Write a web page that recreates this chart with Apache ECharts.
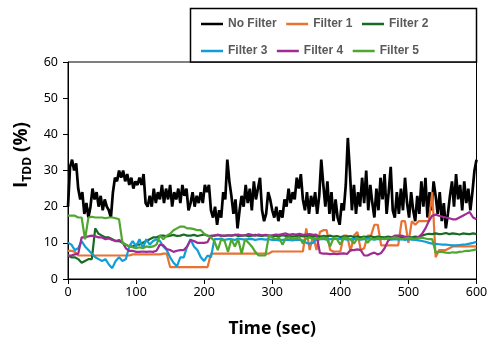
<!DOCTYPE html>
<html><head><meta charset="utf-8">
<script src="https://cdn.jsdelivr.net/npm/echarts@6/dist/echarts.min.js"></script>
<style>html,body{margin:0;padding:0;background:#fff}#c{width:493px;height:347px}</style>
</head><body><div id="c"></div>
<script>
const seriesNames = ['No Filter', 'Filter 1', 'Filter 2', 'Filter 3', 'Filter 4', 'Filter 5'];
const seriesColors = ['#000000', '#E97132', '#196B24', '#0F9ED5', '#A02B93', '#4EA72E'];
const xTitle = 'Time (sec)';
const xMin = 0, xMax = 600, xStep = 100;
const yMin = 0, yMax = 60, yStep = 10;
const noFilterStep = 3;   // sample spacing (sec) of No Filter
const filterStep = 5;     // sample spacing (sec) of filters

const noFilter = [
  20, 31, 33, 30, 32, 25, 22, 24, 18, 21, 17, 20, 25, 22, 24, 20, 23, 19, 22, 20,
  19, 17, 24, 28, 27, 30, 28, 30, 27, 29, 26, 28, 25, 27, 26, 28, 26, 29, 21, 20,
  23, 20, 25, 21, 24, 22, 26, 21, 25, 22, 26, 20, 24, 22, 25, 21, 26, 23, 25, 19,
  21, 24, 20, 23, 21, 24, 21, 26, 24, 26, 19, 17, 20, 15, 19, 17, 24, 22, 33, 27,
  23, 18, 22, 14, 19, 23, 20, 26, 21, 25, 19, 27, 22, 25, 28, 19, 16, 18, 24, 22,
  19, 17, 20, 16, 19, 17, 22, 20, 25, 21, 24, 22, 28, 25, 29, 22, 19, 24, 18, 23,
  20, 24, 18, 23, 33, 26, 20, 27, 18, 24, 16, 22, 17, 15, 21, 19, 26, 39, 30, 19,
  26, 18, 24, 20, 28, 21, 30, 19, 26, 21, 17, 25, 19, 28, 22, 29, 18, 24, 31, 19,
  17, 24, 18, 25, 19, 28, 21, 17, 24, 19, 16, 23, 18, 27, 20, 28, 17, 24, 19, 27,
  23, 18, 24, 16, 21, 14, 18, 23, 27, 20, 29, 22, 26, 19, 27, 21, 25, 19, 24, 30,
  33
];
const filter1 = [
  7.8, 7.8, 7.5, 6.5, 6.5, 6.5, 6.5, 6.5, 6.5, 6.5, 6.5, 6.5,
  6.5, 6.5, 6.5, 6.5, 6.5, 6.5, 6.5, 6.8, 6.8, 6.8, 6.8, 6.8,
  6.8, 6.8, 6.8, 6.8, 7, 7, 3.3, 3.3, 3.3, 3.3, 3.3, 3.3,
  3.3, 3.3, 3.3, 3.3, 3.3, 3.3, 7, 7, 7, 7, 7, 7,
  7, 7, 7, 7, 7, 7, 7, 7, 7, 7, 7, 7,
  7.6, 7.6, 7.6, 7.6, 7.6, 7.6, 7.6, 7.6, 7.6, 7.6, 14, 8,
  12, 8, 13, 13.5, 13.5, 8, 7.6, 7.6, 7.6, 12, 12, 7.6,
  12, 13, 8, 8.5, 12, 12, 15, 15, 9.3, 9.3, 9.3, 9.3,
  9.3, 9.3, 16, 16, 10, 16, 15, 16, 16, 16, 16, 24,
  6, 8, 8, 8, 8.5, 9, 9, 9, 9, 9, 9, 9,
  9
];
const filter2 = [
  6.5, 6, 6, 5.5, 4.5, 5, 5.5, 5.5, 14, 12.5, 12, 11.5,
  11.5, 11, 10.5, 10.5, 10, 9.5, 9, 9, 9.5, 9.5, 10, 10.5,
  11, 11.5, 11.5, 12, 12, 11.8, 12, 12.2, 11.9, 12, 12.3, 12,
  12, 12.2, 11.9, 12.1, 12.3, 12, 11.8, 12, 12.2, 12, 11.9, 12.1,
  12, 12.2, 11.9, 12, 12.1, 11.8, 12, 12.2, 12, 11.9, 12.1, 12,
  11.9, 12, 11.8, 12.1, 11.9, 12, 11.7, 11.9, 12, 11.8, 12, 11.9,
  11.8, 12, 11.7, 11.9, 11.8, 12, 11.7, 11.9, 11.6, 11.8, 11.7, 11.9,
  11.6, 11.8, 11.5, 11.7, 11.6, 11.8, 11.5, 11.7, 11.6, 11.5, 11.7, 11.6,
  11.5, 11.7, 11.6, 11.4, 11.6, 11.5, 11.7, 11.6, 12, 12.3, 12.5, 12.4,
  12.6, 12.4, 12.5, 12.7, 12.4, 12.6, 12.5, 12.3, 12.6, 12.5, 12.4, 12.6,
  12.4
];
const filter3 = [
  10, 9.5, 8, 8.5, 10.5, 9, 8, 7, 6, 5.5, 5, 5.5,
  4, 3, 5, 6, 5, 5.5, 9, 10.5, 9, 11, 8.5, 11,
  9.5, 10.5, 11, 10.5, 9, 8, 6, 4.5, 3.5, 6, 6, 9,
  11, 9, 8, 6, 5, 6.5, 6, 11, 11, 11.2, 10.8, 11,
  11, 10.8, 11.2, 11, 10.9, 11, 11.1, 10.8, 11, 11, 10.9, 11,
  10.8, 10.9, 10.7, 10.8, 10.9, 10.8, 10.7, 10.9, 10.8, 10.7, 10, 9.8,
  10, 11, 11, 11.1, 10.9, 11, 11, 11.2, 11, 11.1, 10.9, 11,
  11, 11.1, 10.9, 11, 11.2, 11, 10.9, 11.1, 11, 11.2, 11, 10.9,
  11, 10.9, 11, 10.8, 11, 10.9, 10.8, 10.7, 10.5, 10.3, 10, 9.8,
  9.7, 9.6, 9.5, 9.5, 9.4, 9.3, 9.3, 9.4, 9.5, 9.6, 9.8, 10,
  10.3
];
const filter4 = [
  6.5, 6.5, 6.8, 7, 11.5, 11.5, 11.8, 12, 11.8, 11.5, 11.5, 11,
  11.2, 10.8, 10.5, 10.8, 10.2, 8.5, 7.8, 7.8, 7.5, 7.5, 7.6, 7.5,
  7.6, 7.5, 7.8, 9.5, 9.3, 8.3, 8, 7.5, 7.8, 8, 8, 9,
  10.8, 10.5, 10, 10, 10, 10.2, 12, 12, 12.2, 12, 12, 12.1,
  12, 12.2, 12.3, 12, 12.1, 12.4, 12.2, 12, 12.3, 12.1, 12.2, 12,
  12.1, 12.3, 12.2, 12.4, 12.6, 12.2, 12.4, 12.3, 12.5, 12.2, 12.3, 12.4,
  12.2, 12.3, 7.2, 7, 7, 6.9, 7, 6.9, 7, 7.1, 6.9, 8,
  8, 8.2, 8, 6.5, 6.5, 7, 7.3, 6.8, 7.2, 8.5, 10.5, 11.5,
  12, 12, 12, 11.7, 11.5, 11.3, 11.3, 11.6, 12.5, 14, 16, 17.5,
  17.8, 17.5, 17.2, 17, 16.8, 16.5, 16.5, 17, 17.5, 18, 18.5, 17,
  16.5
];
const filter5 = [
  17.5, 17.5, 17.5, 17, 17, 11, 17, 17.2, 17, 17, 17, 16.8,
  17, 17, 16.8, 16.5, 10, 9.5, 9, 8.8, 8.5, 8.8, 8.5, 9,
  8.8, 9, 9.5, 12, 11, 12, 12.5, 13.5, 14, 14.5, 14.5, 14,
  14, 13.8, 13.5, 13.5, 12.5, 12, 11.5, 10.5, 8, 11, 10.5, 7.5,
  11, 9, 11, 7, 11, 10, 9, 7.5, 6.5, 6.5, 6.5, 12,
  11.5, 11, 11.5, 9.5, 11.3, 11.5, 11, 11.3, 11.5, 9.8, 11.2, 11.5,
  11, 11.3, 11, 11.5, 11.2, 9, 11.3, 11, 9.5, 11.5, 11.3, 11,
  9.8, 11.2, 11, 11.5, 10, 11.2, 11, 11.3, 11.2, 11, 11.3, 11.2,
  11.5, 11.3, 11, 11.2, 11.4, 11.2, 11, 11.3, 11.4, 11.2, 11, 11,
  7.3, 7.5, 7.5, 7.3, 7.2, 7.4, 7.3, 7.5, 7.6, 7.8, 7.8, 8,
  8.2
];

const seriesValues = [noFilter, filter1, filter2, filter3, filter4, filter5];
const seriesSteps = [noFilterStep, filterStep, filterStep, filterStep, filterStep, filterStep];

const chart = echarts.init(document.getElementById('c'), null, {renderer: 'canvas'});
const tickFont = {color: '#000', fontFamily: 'Noto Sans', fontSize: 12.5};

const legendCommon = {
  orient: 'horizontal', icon: 'rect', itemWidth: 22, itemHeight: 2.5, itemGap: 9.5, padding: 0,
  textStyle: {color: '#595959', fontFamily: 'Liberation Sans', fontWeight: 'bold', fontSize: 12, width: 60},
  selectedMode: false
};

chart.setOption({
  animation: false,
  backgroundColor: '#fff',
  grid: {left: 68, right: 16.5, top: 62, bottom: 68, show: true, borderColor: '#000', borderWidth: 1},
  xAxis: {
    type: 'value', min: xMin, max: xMax, interval: xStep,
    name: xTitle, nameLocation: 'middle', nameGap: 41,
    nameTextStyle: {fontFamily: 'Noto Sans', fontWeight: 'bold', fontSize: 17.5, color: '#000'},
    axisLine: {show: true, lineStyle: {color: '#000', width: 1}},
    axisTick: {show: true, inside: false, length: 5, lineStyle: {color: '#000'}},
    axisLabel: Object.assign({margin: 7}, tickFont),
    splitLine: {show: false}
  },
  yAxis: {
    type: 'value', min: yMin, max: yMax, interval: yStep,
    axisLine: {show: true, lineStyle: {color: '#000', width: 1}},
    axisTick: {show: true, inside: false, length: 5, lineStyle: {color: '#000'}},
    axisLabel: Object.assign({margin: 10}, tickFont),
    splitLine: {show: false}
  },
  graphic: [
    {type: 'rect', z: 3, shape: {x: 190.5, y: 8.5, width: 286, height: 53.5},
     style: {fill: '#fff', stroke: '#000', lineWidth: 1.5}},
    {type: 'text', z: 5, x: 22, y: 155, rotation: Math.PI / 2,
     style: {
       text: '{a|I}{b|TDD}{a| (%)}', align: 'center', verticalAlign: 'middle',
       rich: {
         a: {fontFamily: 'Open Sans', fontWeight: 'bold', fontSize: 19, color: '#000', verticalAlign: 'bottom'},
         b: {fontFamily: 'Open Sans', fontWeight: 'bold', fontSize: 12, color: '#000', verticalAlign: 'bottom', padding: [0, 0, -2, 0]}
       }
     }}
  ],
  legend: [
    Object.assign({left: 201, top: 18, data: seriesNames.slice(0, 3)}, legendCommon),
    Object.assign({left: 201, top: 45, data: seriesNames.slice(3, 6)}, legendCommon)
  ],
  series: seriesNames.map((name, i) => ({
    name: name, type: 'line', symbol: 'none', showSymbol: false,
    data: seriesValues[i].map((v, k) => [k * seriesSteps[i], v]),
    lineStyle: {color: seriesColors[i], width: i === 0 ? 2.7 : 2.2},
    itemStyle: {color: seriesColors[i]},
    z: 2 + i * 0.01
  }))
});
</script></body></html>
